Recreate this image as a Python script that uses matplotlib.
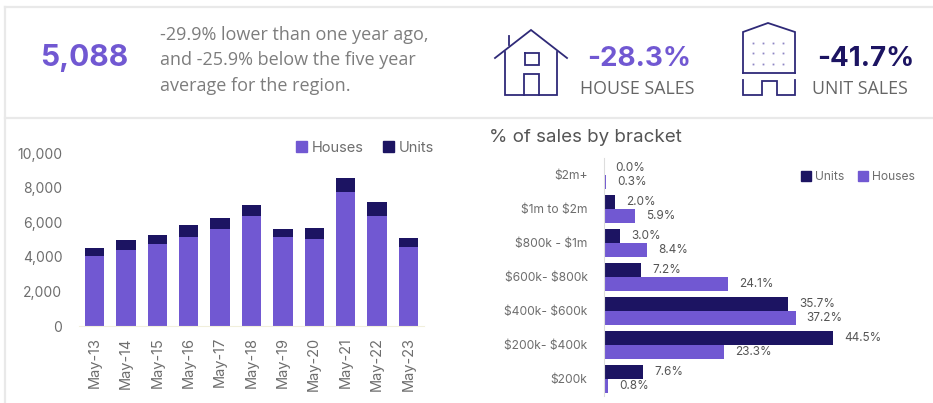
import matplotlib
matplotlib.use('Agg')
from matplotlib import pyplot as plt
from matplotlib.patches import Patch
import numpy as np

W, H = 933, 403

plt.rcParams['font.family'] = ['Inter', 'DejaVu Sans']
plt.rcParams['text.parse_math'] = False  # labels have $ signs

# stacked bars, left chart
months = ['May-13', 'May-14', 'May-15', 'May-16', 'May-17', 'May-18',
          'May-19', 'May-20', 'May-21', 'May-22', 'May-23']
houses = [4054, 4400, 4730, 5173, 5598, 6351, 5173, 5057, 7722, 6351, 4575]
units = [483, 561, 520, 637, 637, 657, 445, 618, 811, 830, 513]

# % of sales by bracket, right chart
brackets = ['$200k', '$200k- $400k', '$400k- $600k', '$600k- $800k',
            '$800k - $1m', '$1m to $2m', '$2m+']
pct_units = [7.6, 44.5, 35.7, 7.2, 3.0, 2.0, 0.0]
pct_houses = [0.8, 23.3, 37.2, 24.1, 8.4, 5.9, 0.3]
y_ticks = [0, 2000, 4000, 6000, 8000, 10000]

C_HOUSES = '#7158d2'
C_UNITS = '#1c1462'
C_TEXT = '#6e6e6e'
C_TEXT2 = '#555555'
C_LINE = '#2f2a78'


def axes_px(x0, x1, y0, y1):
    # y0 = top, y1 = bottom, in image pixels
    return fig.add_axes([x0 / W, 1 - y1 / H, (x1 - x0) / W, (y1 - y0) / H])


fig = plt.figure(figsize=(W / 100, H / 100), dpi=100)

# overlay in pixel coords for the header, icons and panel lines
bg = fig.add_axes([0, 0, 1, 1])
bg.set_xlim(0, W)
bg.set_ylim(H, 0)
bg.axis('off')

for xs, ys in [([5, 933], [7, 7]), ([5, 933], [118, 118]), ([5, 5], [7, 403])]:
    bg.plot(xs, ys, color='#e9e9e9', lw=1.6)

bg.text(84, 58, '5,088', color=C_HOUSES, fontsize=21.5, fontweight='bold',
        ha='center', va='center')
for y, line in zip([35, 60, 86], ['-29.9% lower than one year ago,',
                                  'and -25.9% below the five year',
                                  'average for the region.']):
    bg.text(160, y, line, color='#7d7d7d', fontsize=13, family='Open Sans',
            ha='left', va='center')

bg.text(639, 59, '-28.3%', color=C_HOUSES, fontsize=20, fontweight='bold',
        ha='center', va='center')
bg.text(637, 89, 'HOUSE SALES', color='#666666', fontsize=12.8, family='Open Sans',
        ha='center', va='center')
bg.text(866, 59, '-41.7%', color=C_UNITS, fontsize=20, fontweight='bold',
        ha='center', va='center')
bg.text(860, 89, 'UNIT SALES', color='#666666', fontsize=12.8, family='Open Sans',
        ha='center', va='center')

# house icon
house_paths = [
    ([495, 531, 567], [58, 30, 58]),
    ([505, 505, 557, 557], [52, 95, 95, 52]),
    ([509, 509], [36, 45]),
    ([525, 539, 539, 525, 525], [53, 53, 65, 65, 53]),
    ([524, 524, 539, 539], [95, 74, 74, 95]),
]
# unit block icon
block_paths = [
    ([743, 743, 768, 795, 795], [73, 32, 23, 32, 73]),
    ([743, 795], [73, 73]),
    ([743, 743, 762, 762, 777, 777, 795, 795], [80, 95, 95, 81, 81, 95, 95, 80]),
]
for xs, ys in house_paths + block_paths:
    bg.plot(xs, ys, color=C_LINE, lw=1.3, solid_joinstyle='miter')
for dx in [753, 763, 773, 783]:
    for dy in [43, 53, 64]:
        bg.plot(dx, dy, 's', color='#8f86c4', ms=1.3, mew=0)

# left chart
ax = axes_px(79, 424, 153, 326)
x = np.arange(len(months))
ax.bar(x, houses, width=0.62, color=C_HOUSES, label='Houses')
ax.bar(x, units, width=0.62, bottom=houses, color=C_UNITS, label='Units')
ax.set_xlim(-0.5, 10.5)
ax.set_ylim(0, 10000)
ax.set_yticks(y_ticks)
ax.set_yticklabels([f'{v:,}' for v in y_ticks])
ax.set_xticks(x)
ax.set_xticklabels(months, rotation=90)
ax.tick_params(axis='y', length=0, pad=12, labelsize=10, labelcolor=C_TEXT)
ax.tick_params(axis='x', length=0, pad=8, labelsize=10.5, labelcolor=C_TEXT)
for s in ['top', 'right', 'left']:
    ax.spines[s].set_visible(False)
ax.spines['bottom'].set_color('#f1efdc')
ax.patch.set_alpha(0)
ax.legend(handles=[Patch(color=C_HOUSES, label='Houses'), Patch(color=C_UNITS, label='Units')],
          ncol=2, frameon=False, loc='center right', bbox_to_anchor=((434 - 79) / 345, 1.03),
          fontsize=10.5, labelcolor=C_TEXT, handlelength=0.75, handleheight=0.75,
          handletextpad=0.35, columnspacing=1.3, borderpad=0, borderaxespad=0)

# right chart
ax2 = axes_px(604.3, 925, 158, 396)
y = np.arange(len(brackets))
bar_h = 0.41
ax2.barh(y + bar_h / 2, pct_units, height=bar_h, color=C_UNITS, label='Units')
ax2.barh(y - bar_h / 2, pct_houses, height=bar_h, color=C_HOUSES, label='Houses')
for i in range(len(brackets)):
    ax2.annotate(f'{pct_units[i]:.1f}%', (pct_units[i], y[i] + bar_h / 2), xytext=(8, 0),
                 textcoords='offset points', va='center', fontsize=8.5, color=C_TEXT2)
    ax2.annotate(f'{pct_houses[i]:.1f}%', (pct_houses[i], y[i] - bar_h / 2), xytext=(8, 0),
                 textcoords='offset points', va='center', fontsize=8.5, color=C_TEXT2)
ax2.set_xlim(0, (925 - 604.3) / 5.14)
ax2.set_ylim(-0.5, 6.5)
ax2.set_yticks(y)
ax2.set_yticklabels(brackets)
ax2.set_xticks([])
ax2.tick_params(axis='y', length=0, pad=12, labelsize=8.7, labelcolor=C_TEXT)
for s in ['top', 'right', 'bottom']:
    ax2.spines[s].set_visible(False)
ax2.spines['left'].set_color('#dddddd')
ax2.patch.set_alpha(0)
ax2.legend(handles=[Patch(color=C_UNITS, label='Units'), Patch(color=C_HOUSES, label='Houses')],
           ncol=2, frameon=False, loc='center right', bbox_to_anchor=(1.0 - 10 / 320.7, 1 - 19 / 238),
           fontsize=8.7, labelcolor=C_TEXT, handlelength=0.85, handleheight=0.85,
           handletextpad=0.35, columnspacing=1.1, borderpad=0, borderaxespad=0)

bg.text(489, 137, '% of sales by bracket', color='#555555', fontsize=13.5,
        ha='left', va='center')

fig.savefig('out.png', dpi=100)
